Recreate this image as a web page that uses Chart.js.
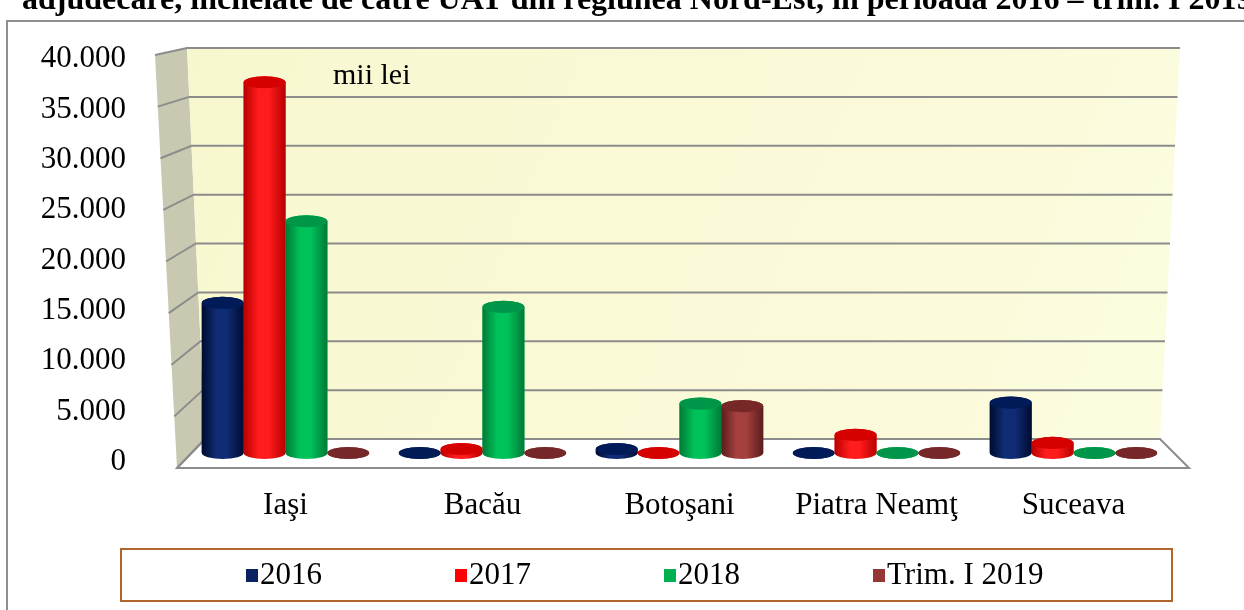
<!DOCTYPE html>
<html>
<head>
<meta charset="utf-8">
<script src="https://cdn.jsdelivr.net/npm/chart.js@4.4.1/dist/chart.umd.min.js"></script>
<style>
  html, body { margin: 0; padding: 0; background: #fff; }
  #wrap { width: 1244px; height: 610px; }
</style>
</head>
<body>
<div id="wrap"><canvas id="bar-chart" width="1244" height="610"></canvas></div>
<script>
// date (mii lei)
const judete = ["Iaşi", "Bacău", "Botoşani", "Piatra Neamţ", "Suceava"];
const perioade = ["2016", "2017", "2018", "Trim. I 2019"];
const valori2016 = [14900, 0, 400, 0, 5000];
const valori2017 = [36800, 400, 0, 1800, 1000];
const valori2018 = [23000, 14500, 4900, 0, 0];
const valoriTrim2019 = [0, 0, 4650, 0, 0];
const yMax = 40000;
const yPas = 5000;

const culori = ["#0B2262", "#FF0000", "#00B050", "#953735"];
// nuante pentru cilindri: margine, lumina, capac
const nuante = [
  { edge: "#000C30", light: "#0F2C74", top: "#001B58" },
  { edge: "#B80000", light: "#FF1C1C", top: "#D50000" },
  { edge: "#007A36", light: "#00C25A", top: "#00964A" },
  { edge: "#5A1C1C", light: "#A4403E", top: "#762828" }
];

const titlu = "adjudecare, încheiate de către UAT din regiunea Nord-Est, în perioada 2016 – trim. I 2019";
const FONT = "'Liberation Serif', 'Times New Roman', serif";

function fmt(v) {
  return String(v).replace(/\B(?=(\d{3})+(?!\d))/g, ".");
}

// cadrul 3D (pereti, podea, linii de grila)
const cadru3d = {
  id: "cadru3d",
  beforeDraw(chart) {
    const ctx = chart.ctx;
    ctx.save();
    ctx.fillStyle = "#fff";
    ctx.fillRect(0, 0, chart.width, chart.height);
    ctx.strokeStyle = "#8f8f8f";
    ctx.lineWidth = 2;
    ctx.strokeRect(7, 21, chart.width + 20, chart.height + 20);
    ctx.restore();
  },
  beforeDatasetsDraw(chart) {
    const ctx = chart.ctx;
    const y = chart.scales.y;
    const p0 = y.getPixelForValue(0), pMax = y.getPixelForValue(yMax);
    const backY = py => 439 + (py - p0) * (391 / (p0 - pMax));
    const frontY = py => 468 + (py - p0) * (413 / (p0 - pMax));
    const backL = yb => 187 + (yb - 48) * (18 / 391);
    const backR = yb => 1180 - (yb - 48) * (20 / 391);
    const frontL = yf => 155 + (yf - 55) * (22 / 413);
    const bt = backY(pMax), bb = backY(p0);
    const ft = frontY(pMax), fb = frontY(p0);

    ctx.save();
    // perete lateral
    ctx.fillStyle = "#C9C9B1";
    ctx.beginPath();
    ctx.moveTo(frontL(ft), ft);
    ctx.lineTo(backL(bt), bt);
    ctx.lineTo(backL(bb), bb);
    ctx.lineTo(frontL(fb), fb);
    ctx.closePath();
    ctx.fill();
    // perete din spate
    const g = ctx.createLinearGradient(backL(bt), bt, backR(bb), bb);
    g.addColorStop(0, "#F7F7CF");
    g.addColorStop(1, "#FCFCDF");
    ctx.fillStyle = g;
    ctx.beginPath();
    ctx.moveTo(backL(bt), bt);
    ctx.lineTo(backR(bt), bt);
    ctx.lineTo(backR(bb), bb);
    ctx.lineTo(backL(bb), bb);
    ctx.closePath();
    ctx.fill();
    // podea
    ctx.fillStyle = "#FFFFFF";
    ctx.strokeStyle = "#8C8C8C";
    ctx.lineWidth = 2;
    ctx.beginPath();
    ctx.moveTo(frontL(fb), fb);
    ctx.lineTo(1189, fb);
    ctx.lineTo(backR(bb), bb);
    ctx.lineTo(backL(bb), bb);
    ctx.closePath();
    ctx.fill();
    ctx.stroke();
    // linii de grila
    ctx.strokeStyle = "#8C8C8C";
    ctx.lineWidth = 2;
    y.ticks.forEach(t => {
      const py = y.getPixelForValue(t.value);
      const yb = backY(py), yf = frontY(py);
      ctx.beginPath();
      ctx.moveTo(frontL(yf), yf);
      ctx.lineTo(backL(yb), yb);
      if (t.value > 0) ctx.lineTo(backR(yb), yb);
      ctx.stroke();
    });
    // unitate
    ctx.fillStyle = "#000";
    ctx.font = "30px " + FONT;
    ctx.textBaseline = "middle";
    ctx.fillText("mii lei", 333, 76);
    ctx.restore();
  },
  afterDatasetsDraw(chart) {
    const ctx = chart.ctx;
    ctx.save();
    chart.data.datasets.forEach((ds, di) => {
      const meta = chart.getDatasetMeta(di);
      const n = nuante[di];
      meta.data.forEach(bar => {
        const w = bar.width;
        const rx = w / 2, ry = w * 0.145;
        const l = bar.x - rx, r = bar.x + rx;
        const top = bar.y, base = bar.base;
        const gr = ctx.createLinearGradient(l, 0, r, 0);
        gr.addColorStop(0, n.edge);
        gr.addColorStop(0.35, n.light);
        gr.addColorStop(0.6, n.light);
        gr.addColorStop(1, n.edge);
        ctx.fillStyle = gr;
        ctx.beginPath();
        ctx.moveTo(l, top);
        ctx.lineTo(l, base);
        ctx.ellipse(bar.x, base, rx, ry, 0, Math.PI, 0, true);
        ctx.lineTo(r, top);
        ctx.ellipse(bar.x, top, rx, ry, 0, 0, Math.PI, true);
        ctx.closePath();
        ctx.fill();
        ctx.fillStyle = n.top;
        ctx.beginPath();
        ctx.ellipse(bar.x, top, rx, ry, 0, 0, Math.PI * 2);
        ctx.fill();
      });
    });
    ctx.restore();
  },
  afterDraw(chart) {
    const ctx = chart.ctx;
    ctx.save();
    // titlul (taiat sus)
    ctx.fillStyle = "#000";
    ctx.font = "bold 32px " + FONT;
    ctx.textBaseline = "alphabetic";
    ctx.fillText(titlu, 22, 9);
    // legenda
    ctx.strokeStyle = "#B0652C";
    ctx.lineWidth = 2;
    ctx.strokeRect(121, 549, 1051, 52);
    ctx.font = "31px " + FONT;
    ctx.textBaseline = "middle";
    let x = 246;
    chart.data.datasets.forEach(ds => {
      ctx.fillStyle = ds.backgroundColor;
      ctx.fillRect(x, 569, 12, 13);
      ctx.fillStyle = "#000";
      ctx.fillText(ds.label, x + 14, 576);
      x += 14 + ctx.measureText(ds.label).width + 133;
    });
    ctx.restore();
  }
};

const seturi = [valori2016, valori2017, valori2018, valoriTrim2019].map((v, i) => ({
  label: perioade[i],
  data: v,
  backgroundColor: culori[i],
  borderWidth: 0,
  categoryPercentage: 0.85,
  barPercentage: 1.0
}));

new Chart(document.getElementById("bar-chart"), {
  type: 'bar',
  data: { labels: judete, datasets: seturi },
  options: {
    responsive: false,
    animation: false,
    layout: { padding: { top: 50, right: 72, bottom: 57, left: 0 } },
    plugins: {
      legend: { display: false },
      title: { display: false },
      tooltip: { enabled: false }
    },
    scales: {
      x: {
        grid: { display: false, drawTicks: false },
        border: { display: false },
        ticks: {
          color: "#000",
          font: { family: FONT, size: 31 },
          padding: 34,
          maxRotation: 0,
          autoSkip: false
        },
        afterFit(s) { s.height = 100; }
      },
      y: {
        min: 0,
        max: yMax,
        grid: { display: false, drawTicks: false },
        border: { display: false },
        ticks: {
          stepSize: yPas,
          color: "#000",
          font: { family: FONT, size: 31 },
          padding: 61,
          labelOffset: 9,
          callback: v => fmt(v)
        },
        afterFit(s) {
          s.width = 187;
          s.paddingTop = 20;
          s.paddingBottom = 20;
        }
      }
    }
  },
  plugins: [cadru3d]
});
</script>
</body>
</html>
